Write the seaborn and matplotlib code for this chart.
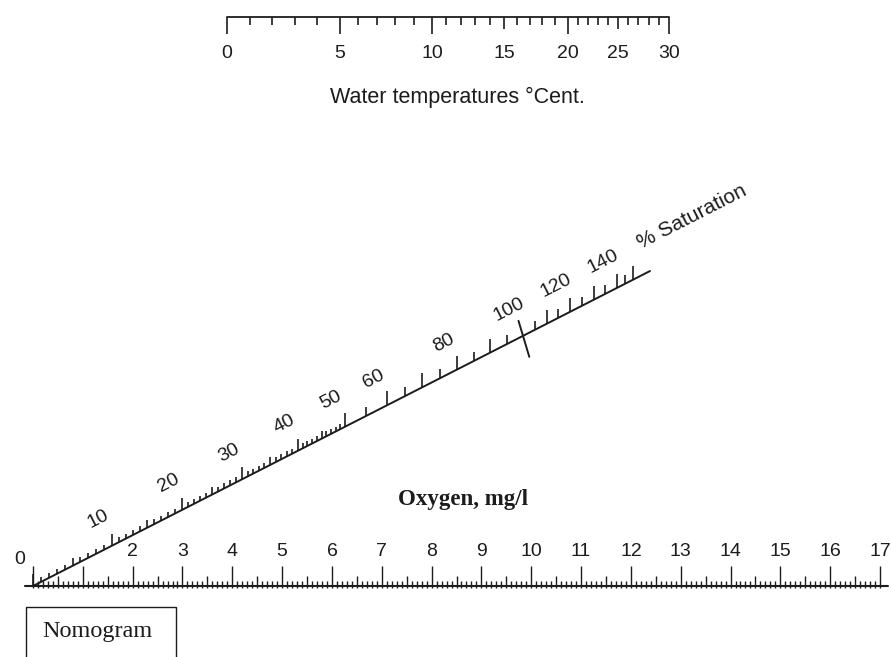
import numpy as np
import matplotlib
matplotlib.use("Agg")
import matplotlib.pyplot as plt
import seaborn as sns

# ---- scale values ----
temp_labels = [0, 5, 10, 15, 20, 25, 30]              # water temperature, deg C
temp_minor = list(range(0, 31))                        # 1 deg ticks
oxy_labels = [2, 3, 4, 5, 6, 7, 8, 9, 10, 11, 12, 13, 14, 15, 16, 17]   # mg/l
oxy_range = [0, 17]
sat_labels = [10, 20, 30, 40, 50, 60, 80, 100, 120, 140]   # % saturation
sat_anchor = [0, 10, 20, 30, 40, 50, 60, 80, 100, 120, 140, 150]

# ---- layout (page pixels) ----
W, H = 891, 657
temp_px = [227, 340, 432, 504, 568, 618, 669]      # where the labelled temps sit
temp_y = 17
oxy_x0, oxy_x1, oxy_y = 33, 880, 586
sat_px = [33, 112, 182, 242, 298, 345, 387, 457, 523, 570, 617, 633]
sat_end = 650
slope = -0.5105
ang = np.degrees(np.arctan(-slope))
ink = "#1c1c1c"

sns.set_theme(style="white")
plt.rcParams["font.family"] = ["Liberation Sans", "DejaVu Sans"]

fig = plt.figure(figsize=(W / 100, H / 100), dpi=100)
ax = fig.add_axes([0, 0, 1, 1])
ax.set_xlim(0, W)
ax.set_ylim(H, 0)
ax.axis("off")


def temp_x(t):
    return np.interp(t, temp_labels, temp_px)


def oxy_x(o):
    return oxy_x0 + (np.asarray(o, float) - oxy_range[0]) / (oxy_range[1] - oxy_range[0]) * (oxy_x1 - oxy_x0)


def sat_xy(s):
    x = np.interp(s, sat_anchor, sat_px)
    return x, oxy_y + slope * (x - oxy_x0)


# ---- temperature scale (top) ----
sns.lineplot(x=[temp_x(0), temp_x(30)], y=[temp_y, temp_y], ax=ax, color=ink, lw=1.3)
for t in temp_minor:
    if t in (0, 5, 10, 20, 30):
        L = 17
    elif t % 5 == 0:
        L = 12
    else:
        L = 8
    ax.vlines(temp_x(t), temp_y, temp_y + L, color=ink, lw=1.2)
for t in temp_labels:
    ax.text(temp_x(t), 53, str(t), ha="center", va="center", fontsize=14, color=ink)
ax.text(457, 97, "Water temperatures \u00b0Cent.", ha="center", va="center",
        fontsize=15.5, color=ink)

# ---- oxygen scale (bottom) ----
sns.lineplot(x=[oxy_x0 - 8, oxy_x1 + 8], y=[oxy_y, oxy_y], ax=ax, color=ink, lw=1.5)
tenths = np.round(np.arange(oxy_range[0], oxy_range[1] + 0.001, 0.1), 1)
for o in tenths:
    if abs(o - round(o)) < 1e-6:
        L = 20
    elif abs(o * 2 - round(o * 2)) < 1e-6:
        L = 10
    else:
        L = 5
    ax.vlines(oxy_x(o), oxy_y + 1.5, oxy_y - L, color=ink, lw=1.0)
for o in oxy_labels:
    ax.text(oxy_x(o), 552, str(o), ha="center", va="center", fontsize=14, color=ink)
ax.text(oxy_x0 - 13, 560, "0", ha="center", va="center", fontsize=14, color=ink)
ax.text(463, 500, "Oxygen, mg/l", ha="center", va="center", fontsize=16.5,
        fontweight="bold", family=["Liberation Serif"], color=ink)

# ---- % saturation scale (diagonal) ----
xe = sat_end
sns.lineplot(x=[oxy_x0, xe], y=[oxy_y, oxy_y + slope * (xe - oxy_x0)], ax=ax,
             color=ink, lw=1.4)
sat_ticks = list(range(0, 50)) + list(range(50, 151, 5))
for s in sat_ticks:
    x, y = sat_xy(s)
    if s == 100:
        d = np.array([0.3, 1.0])
        p0 = np.array([x, y]) - 15 * d
        p1 = np.array([x, y]) + 21 * d
        ax.plot([p0[0], p1[0]], [p0[1], p1[1]], color=ink, lw=1.4)
        continue
    if s < 50:
        L = 12 if s % 10 == 0 else (8 if s % 5 == 0 else 5)
    else:
        L = 14 if s % 10 == 0 else 9
    ax.vlines(x, y, y - L, color=ink, lw=1.2)

nrm = np.array([-np.sin(np.radians(ang)), -np.cos(np.radians(ang))])
for s in sat_labels:
    x, y = sat_xy(s)
    ax.text(x + 30 * nrm[0], y + 30 * nrm[1], str(s), ha="center", va="center",
            rotation=ang, rotation_mode="anchor", fontsize=14, color=ink)
ax.text(692, 217, "% Saturation", ha="center", va="center", rotation=ang,
        rotation_mode="anchor", fontsize=15, color=ink)

# ---- caption box ----
ax.add_patch(plt.Rectangle((26, 607), 150, 80, fill=False, edgecolor=ink, lw=1.0))
ax.text(42, 632, "Nomogram", ha="left", va="center", fontsize=17.5,
        family=["Liberation Serif"], color=ink)

fig.savefig("out.png", dpi=100)
